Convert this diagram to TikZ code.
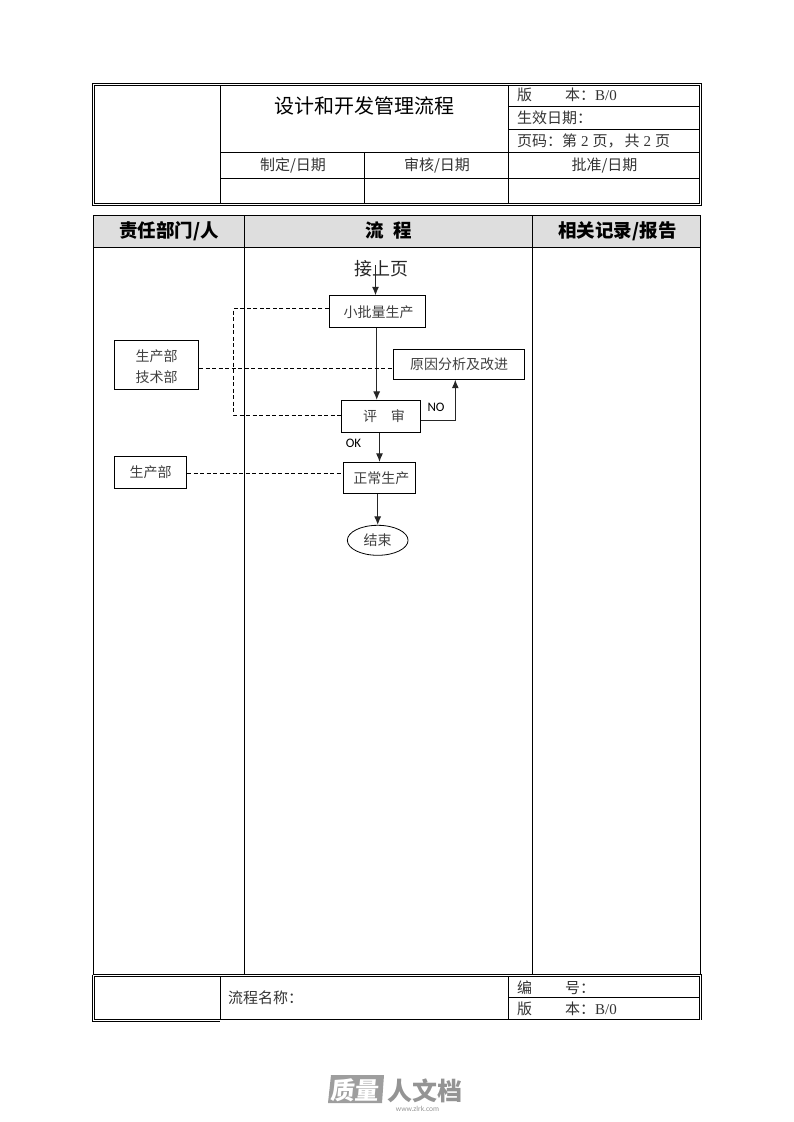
\documentclass[tikz,border=0pt]{standalone}
\usepackage{fontspec}
\setmainfont{Noto Sans CJK SC}
\newfontfamily\lat{Liberation Serif}
\newfontfamily\sans{Carlito}
\usetikzlibrary{shapes.geometric,arrows.meta}
\newcommand{\tam}[1]{\fontsize{#1}{#1}\selectfont}
\begin{document}
\begin{tikzpicture}[x=1pt, y=-1pt, >={Latex[length=8.5pt,width=7pt]},
    linha/.style={line width=0.8pt},
    seta/.style={->, line width=1pt, black!85},
    traco/.style={line width=0.8pt, dash pattern=on 4pt off 2.5pt},
    cel/.style={anchor=west, inner sep=0pt, text height=11pt, text depth=2pt, text=black!80, font=\tam{15}},
    celc/.style={inner sep=0pt, text height=11pt, text depth=2pt, text=black!80, font=\tam{15}},
    cab/.style={inner sep=0pt, text height=14pt, text depth=2pt, font=\tam{18.5}\bfseries},
    caixa/.style={draw, line width=0.8pt, inner sep=0pt, text=black!75, font=\tam{14}, align=center}]
    \useasboundingbox (0,0) rectangle (793,1122);

    % Cabeçalho
    \draw[linha] (92.5,83.5) rectangle (701.5,205);
    \draw[linha] (94.5,85) rectangle (699.5,203);
    \draw[linha] (220.5,85) -- (220.5,203);
    \draw[linha] (508.5,85) -- (508.5,203);
    \draw[linha] (364.5,152.5) -- (364.5,203);
    \draw[linha] (220.5,152.5) -- (699.5,152.5);
    \draw[linha] (220.5,178.5) -- (699.5,178.5);
    \draw[linha] (508.5,106.5) -- (699.5,106.5);
    \draw[linha] (508.5,129.5) -- (699.5,129.5);
    \node[inner sep=0pt, font=\tam{20}, text=black] (titulo) at (364.5,106) {设计和开发管理流程};
    \node[cel] (versao) at (517,96) {版\hspace{33pt}本：{\lat B/0}};
    \node[cel] (vigencia) at (517,119) {生效日期：};
    \node[cel] (pagina) at (517,142) {页码：第{\lat\hspace{4pt}2\hspace{4pt}}页，\hspace{2pt}共{\lat\hspace{4pt}2\hspace{4pt}}页};
    \node[celc] (elabora) at (293,165.5) {制定/日期};
    \node[celc] (revisa) at (437,165.5) {审核/日期};
    \node[celc] (aprova) at (604.5,165.5) {批准/日期};

    % Tabela
    \fill[black!13] (93.5,215) rectangle (700.5,247);
    \draw[linha] (93.5,215) rectangle (700.5,974.5);
    \draw[linha] (93.5,247) -- (700.5,247);
    \draw[linha] (244.5,215) -- (244.5,974.5);
    \draw[linha] (532.5,215) -- (532.5,974.5);
    \node[cab] (resp) at (169,231) {责任部门/人};
    \node[cab] (fluxo) at (389,231) {流\hspace{10pt}程};
    \node[cab] (regs) at (617.5,231) {相关记录/报告};

    % Fluxo
    \node[inner sep=0pt, font=\tam{18}, text=black!85] (inicio) at (381.5,268.5) {接上页};
    \coordinate (entra) at (375.5,265);
    \node[caixa, minimum width=96.4pt, minimum height=31.6pt] (lote) at (377.5,311.5) {\rule{0pt}{14pt}\hspace{2pt}小批量生产};
    \node[caixa, minimum width=131.4pt, minimum height=30pt] (causa) at (459,364.3) {原因分析及改进};
    \node[caixa, minimum width=79.4pt, minimum height=32pt] (revis) at (381,416.3) {\hspace{6pt}评\hspace{14pt}审};
    \node[caixa, minimum width=72pt, minimum height=31pt] (normal) at (379.3,477.8) {\hspace{4pt}正常生产};
    \node[caixa, ellipse, minimum width=60.7pt, minimum height=30pt] (fim) at (377.7,540.3) {结束};
    \node[caixa, minimum width=84.4pt, minimum height=49pt] (depA) at (156.5,364.8)
        {\rule{0pt}{16pt}生产部\\[7pt]技术部};
    \node[caixa, minimum width=72.4pt, minimum height=32pt] (depB) at (150.5,472.3) {生产部};
    \node[inner sep=0pt, font=\sans\tam{13}] (nao) at (436,407.5) {NO};
    \node[inner sep=0pt, font=\sans\tam{13}] (sim) at (353.5,443.5) {OK};

    % Setas
    \draw[seta] (entra) -- (entra |- lote.north);
    \draw[seta] (lote.south -| 376.7,0) -- (revis.north -| 376.7,0);
    \draw[seta] (revis.south -| 379.5,0) -- (normal.north -| 379.5,0);
    \draw[seta] (normal.south -| fim.north) -- (fim.north);
    \draw[seta] (revis.east |- 0,420.3) -| (causa.south -| 455.3,0);

    % Tracejado
    \coordinate (canto1) at (233.5,308.5);
    \coordinate (canto2) at (233.5,415);
    \coordinate (canto3) at (341,415);
    \draw[traco] (lote.west |- canto1) -- (canto1) -- (canto2) -- (canto3);
    \draw[traco] (depA.east |- 0,368) -- (causa.west |- 0,368);
    \draw[traco] (depB.east |- 0,473.5) -- (normal.west |- 0,473.5);

    % Rodapé
    \draw[linha] (92.5,974.5) -- (701.5,974.5) -- (701.5,1020);
    \draw[linha] (92.5,974.5) -- (92.5,1021) -- (220,1021);
    \draw[linha] (94.5,976) rectangle (699.5,1019.5);
    \draw[linha] (220.5,976) -- (220.5,1019.5);
    \draw[linha] (508.5,976) -- (508.5,1019.5);
    \draw[linha] (508.5,997.5) -- (699.5,997.5);
    \node[cel] (nome) at (228,998.5) {流程名称：};
    \node[cel] (numero) at (517,988.5) {编\hspace{33pt}号：};
    \node[cel] (versao2) at (517,1010) {版\hspace{33pt}本：{\lat B/0}};

    % Logotipo
    \fill[black!38] (331,1075) -- (384,1075) -- (382,1103) -- (328,1103) -- cycle;
    \node[inner sep=0pt, text=white, font=\tam{24}\bfseries, xslant=0.1] (logoA) at (355.5,1090) {质量};
    \node[inner sep=0pt, text=black!42, font=\tam{25}\bfseries] (logoB) at (425,1090.5) {人文档};
    \node[inner sep=0pt, text=black!42, font=\sans\tam{7.5}] (site) at (417.5,1109) {www.zlrk.com};
\end{tikzpicture}
\end{document}
